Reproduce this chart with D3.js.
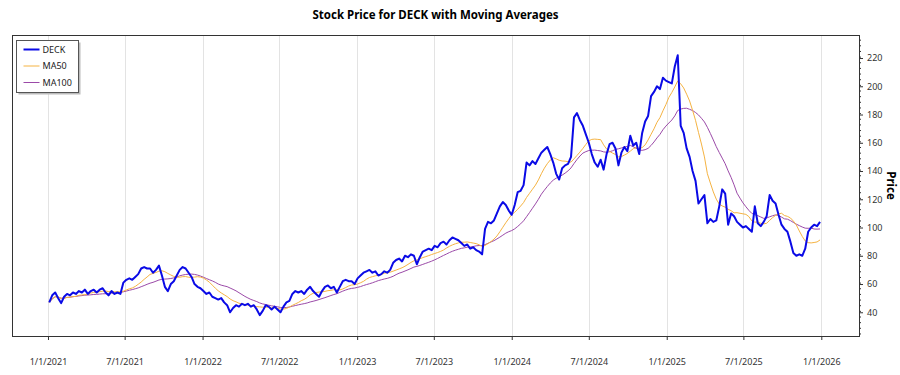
<!DOCTYPE html>
<html>
<head>
<meta charset="utf-8">
<script src="https://cdn.jsdelivr.net/npm/d3@7"></script>
<style>
    body { margin: 0; background: #fff; }
    text { font-family: "Noto Sans", "Open Sans", sans-serif; }
</style>
</head>
<body>
<script>

// weekly closes of DECK, first week 2021-01-04
var firstWeek = "2021-01-04";
var prices = [
    47, 52, 54, 50, 46.5, 51, 53, 52, 54, 53, 55, 54, 56, 53, 55, 56, 54, 56, 57, 54,
    52, 55, 53, 54, 53, 61, 63, 64, 63, 65, 67, 71, 72, 71, 71, 68, 70, 73, 66, 58,
    55, 60, 62, 66, 70, 72, 71, 68, 65, 60, 58, 57, 55, 53, 54, 51, 50, 49, 50, 47,
    45, 40, 43, 45, 44, 46, 45, 46, 44, 45, 42, 38, 41, 45, 44, 42, 44, 42, 40, 44,
    47, 48, 53, 55, 54, 55, 53, 56, 58, 55, 53, 51, 55, 58, 59, 57, 58, 54, 58, 62,
    63, 62, 62, 60, 64, 66, 68, 69, 70, 68, 69, 66, 67, 69, 68, 70, 75, 77, 78, 76,
    80, 79, 81, 80, 74, 79, 83, 84, 85, 84, 87, 86, 89, 90, 88, 91, 93, 92, 91, 89,
    87, 88, 85, 86, 84, 83, 81, 99, 104, 103, 105, 110, 115, 118, 116, 112, 109, 116, 125, 126,
    130, 146, 144, 147, 145, 149, 153, 155, 157, 152, 146, 138, 134, 142, 144, 145, 150, 178, 181, 176,
    172, 166, 160, 152, 146, 143, 148, 141, 152, 159, 160, 156, 144, 153, 157, 154, 165, 158, 160, 152,
    167, 175, 179, 193, 196, 200, 198, 206, 204, 203, 202, 214, 222, 172, 167, 156, 150, 140, 133, 117,
    120, 123, 103, 106, 104, 105, 115, 127, 124, 102, 110, 108, 104, 102, 100, 101, 99, 97, 115, 103,
    101, 104, 108, 123, 119, 117, 109, 102, 99, 97, 90, 82, 80, 81, 80, 85, 97, 100, 102, 101,
    104
];

// moving average windows in weeks (50 and 100 trading days)
var maWindows = [10, 20];
var seriesNames = ["DECK", "MA50", "MA100"];
var seriesColors = ["#0a0ae6", "#f5b342", "#9b4aa8"];
var seriesWidths = [2, 1, 1];

var xTickLabels = ["1/1/2021", "7/1/2021", "1/1/2022", "7/1/2022", "1/1/2023",
    "7/1/2023", "1/1/2024", "7/1/2024", "1/1/2025", "7/1/2025", "1/1/2026"];
var yTicks = [40, 60, 80, 100, 120, 140, 160, 180, 200, 220];

var width = 900, height = 375;
var plot = {left: 12, right: 859, top: 35, bottom: 336};

var parseDay = d3.timeParse("%Y-%m-%d");
var parseLabel = d3.timeParse("%m/%d/%Y");

var start = parseDay(firstWeek);
var data = prices.map(function(p, i) {
    return {date: d3.timeDay.offset(start, i * 7), value: p};
});

// expanding mean until the window is full, then rolling mean
function movingAverage(vals, n) {
    return vals.map(function(v, i) {
        var from = Math.max(0, i - n + 1);
        return d3.mean(vals.slice(from, i + 1));
    });
}

var series = [prices].concat(maWindows.map(function(n) {
    return movingAverage(prices, n);
}));

var x = d3.scaleTime()
        .domain([parseDay("2020-10-08"), parseDay("2026-03-31")])
        .range([plot.left, plot.right]);

var y = d3.scaleLinear()
        .domain([23.2, 236.3])
        .range([plot.bottom, plot.top]);

var svg = d3.select("body").append("svg")
        .attr("width", width)
        .attr("height", height);

//Title
svg.append("text")
        .attr("x", (plot.left + plot.right) / 2)
        .attr("y", 19)
        .attr("text-anchor", "middle")
        .style("font-size", "11.5px")
        .style("font-weight", "bold")
        .text("Stock Price for DECK with Moving Averages");

//Vertical grid lines at the date ticks
var xTicks = xTickLabels.map(function(s) { return parseLabel(s); });

svg.append("g")
        .selectAll("line")
        .data(xTicks)
        .enter().append("line")
        .attr("x1", function(d) { return Math.round(x(d)) + 0.5; })
        .attr("x2", function(d) { return Math.round(x(d)) + 0.5; })
        .attr("y1", plot.top)
        .attr("y2", plot.bottom)
        .attr("stroke", "#e3e3e3")
        .attr("stroke-width", 1);

//Bottom axis
var xAxis = d3.axisBottom(x)
        .tickValues(xTicks)
        .tickSize(4)
        .tickPadding(19)
        .tickFormat(function(d, i) { return xTickLabels[i]; });

var gx = svg.append("g")
        .attr("transform", "translate(0," + plot.bottom + ")")
        .call(xAxis);
gx.select(".domain").remove();
gx.selectAll("line").attr("stroke", "#333");
gx.selectAll("text")
        .style("font-family", "'Noto Sans', sans-serif")
        .style("font-size", "9px")
        .attr("fill", "#333");

//Right axis with minor ticks
var minorTicks = d3.range(25, 236, 4).filter(function(v) { return v % 20 !== 0; });
svg.append("g")
        .attr("transform", "translate(" + plot.right + ",0)")
        .call(d3.axisRight(y).tickValues(minorTicks).tickSize(2).tickFormat(""))
        .call(function(g) { g.select(".domain").remove(); })
        .selectAll("line").attr("stroke", "#333");

var gy = svg.append("g")
        .attr("transform", "translate(" + plot.right + ",0)")
        .call(d3.axisRight(y).tickValues(yTicks).tickSize(4).tickPadding(4));
gy.select(".domain").remove();
gy.selectAll("line").attr("stroke", "#333");
gy.selectAll("text")
        .style("font-family", "'Noto Sans', sans-serif")
        .style("font-size", "9px")
        .attr("fill", "#333");

svg.append("text")
        .attr("transform", "translate(887," + ((plot.top + plot.bottom) / 2) + ") rotate(90)")
        .attr("text-anchor", "middle")
        .style("font-size", "11.5px")
        .style("font-weight", "bold")
        .text("Price");

//Lines, moving averages first so the price stays on top
var line = d3.line()
        .x(function(d, i) { return x(data[i].date); })
        .y(function(d) { return y(d); });

svg.append("g")
        .selectAll("path")
        .data(series.slice().reverse())
        .enter().append("path")
        .attr("fill", "none")
        .attr("stroke", function(d, i) { return seriesColors[2 - i]; })
        .attr("stroke-width", function(d, i) { return seriesWidths[2 - i]; })
        .attr("stroke-linejoin", "round")
        .attr("d", line);

//Plot frame
svg.append("rect")
        .attr("x", plot.left + 0.5)
        .attr("y", plot.top + 0.5)
        .attr("width", plot.right - plot.left)
        .attr("height", plot.bottom - plot.top)
        .attr("fill", "none")
        .attr("stroke", "#333")
        .attr("stroke-width", 1);

//Legend
var legend = svg.append("g").attr("transform", "translate(16.5,40.5)");
legend.append("rect")
        .attr("x", 2).attr("y", 2)
        .attr("width", 62).attr("height", 52)
        .attr("fill", "#bbb");
legend.append("rect")
        .attr("width", 62).attr("height", 52)
        .attr("fill", "#fff")
        .attr("stroke", "#555");

var item = legend.selectAll(".item")
        .data(seriesNames)
        .enter().append("g")
        .attr("class", "item")
        .attr("transform", function(d, i) { return "translate(0," + (9 + i * 16.5) + ")"; });
item.append("line")
        .attr("x1", 7).attr("x2", 23)
        .attr("stroke", function(d, i) { return seriesColors[i]; })
        .attr("stroke-width", function(d, i) { return seriesWidths[i]; });
item.append("text")
        .attr("x", 26)
        .attr("dy", "0.35em")
        .style("font-size", "9px")
        .attr("fill", "#222")
        .text(function(d) { return d; });

</script>
</body>
</html>
